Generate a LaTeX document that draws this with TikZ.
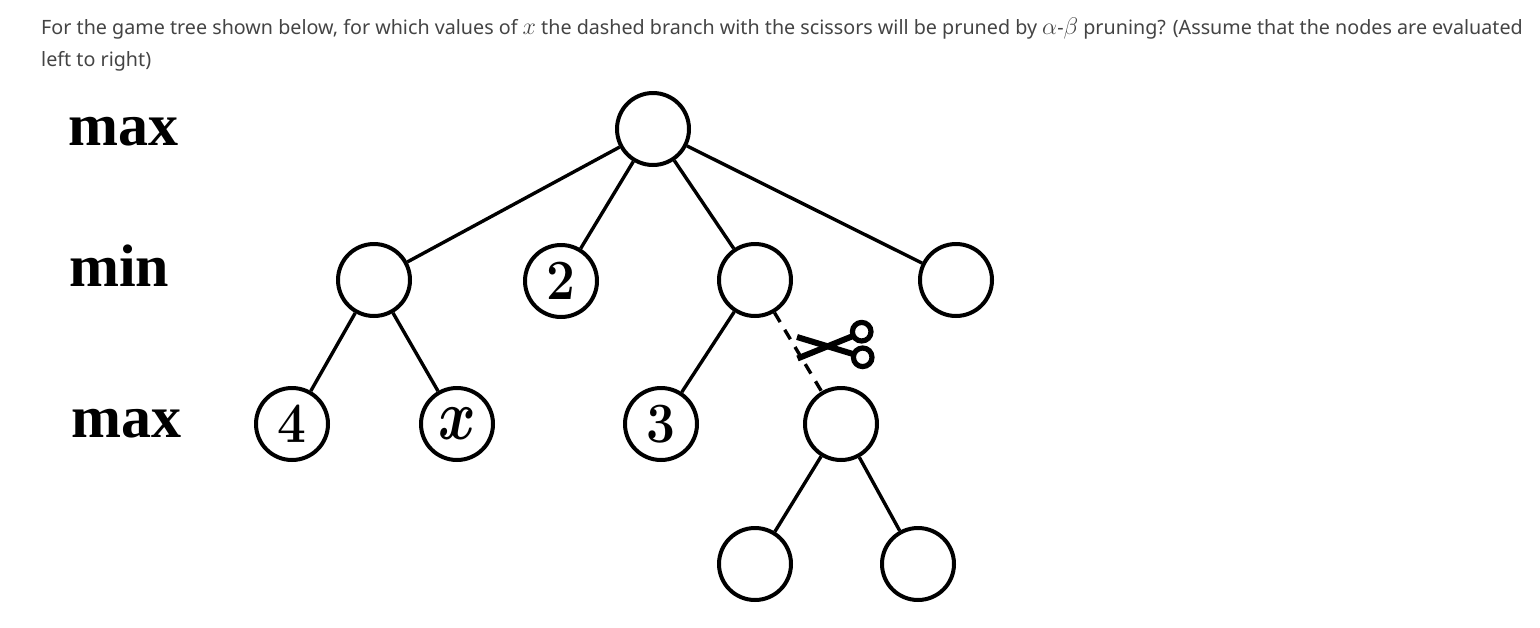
\RequirePackage{fix-cm}
\documentclass[tikz,border=0pt]{standalone}
\usepackage{fontspec}
\newfontfamily\qfont{Noto Sans}
\newfontfamily\lvlfont{Liberation Serif}
\definecolor{qtext}{HTML}{444444}
\newcommand{\qmath}[1]{{\fontsize{24}{24}\selectfont$#1$}}
\newcommand{\digittext}[1]{\scalebox{0.9}[1]{\bfseries #1}}
\tikzset{
  x=1pt,y=-1pt,
  tnode/.style={circle,draw=black,line width=4pt,minimum size=72pt,inner sep=0pt,fill=none,font=\fontsize{57}{57}\selectfont},
  edge/.style={draw=black,line width=3.4pt},
  cutedge/.style={draw=black,line width=3.4pt,dash pattern=on 11pt off 9pt},
  lvl/.style={anchor=base west,inner sep=0pt,font=\fontsize{60}{60}\selectfont\lvlfont\bfseries},
  qline/.style={anchor=base west,inner sep=0pt,text=qtext,font=\fontsize{19.72}{23}\selectfont\qfont},
  blade/.style={draw=black,line width=6pt},
  ring/.style={draw=black,line width=5.2pt}
}
\begin{document}
\begin{tikzpicture}
\useasboundingbox (0,0) rectangle (1540,627);
\node[qline] (q1) at (41,34) {For the game tree shown below, for which values of \qmath{x} the dashed branch with the scissors will be pruned by \qmath{\alpha}-\qmath{\beta} pruning? (Assume that the nodes are evaluated};
\node[qline] (q2) at (41,66) {left to right)};
\node[lvl] (l1) at (68,145) {max};
\node[lvl] (l2) at (69,286) {min};
\node[lvl] (l3) at (71,437) {max};
\node[tnode] (r) at (653,129) {};
\node[tnode] (a) at (374,280) {};
\node[tnode] (b) at (561,281) {\digittext{2}};
\node[tnode] (c) at (755,280) {};
\node[tnode] (d) at (956,280) {};
\node[tnode] (a1) at (292,424) {\digittext{4}};
\node[tnode] (a2) at (457,424) {\scalebox{1}[1.25]{\boldmath$x$}};
\node[tnode] (c1) at (661,424) {\digittext{3}};
\node[tnode] (c2) at (841,424) {};
\node[tnode] (e1) at (755,564) {};
\node[tnode] (e2) at (918,564) {};
\draw[edge] (r) -- (a);
\draw[edge] (r) -- (b);
\draw[edge] (r) -- (c);
\draw[edge] (r) -- (d);
\draw[edge] (a) -- (a1);
\draw[edge] (a) -- (a2);
\draw[edge] (c) -- (c1);
\draw[cutedge] (c) -- (c2);
\draw[edge] (c2) -- (e1);
\draw[edge] (c2) -- (e2);
% scissors
\draw[ring] (861.7,331.7) circle (9.3);
\draw[ring] (862.7,357.3) circle (9.3);
\draw[blade] (797,337) -- (853,354);
\draw[blade] (797.5,358.5) -- (853,336);
\end{tikzpicture}
\end{document}
